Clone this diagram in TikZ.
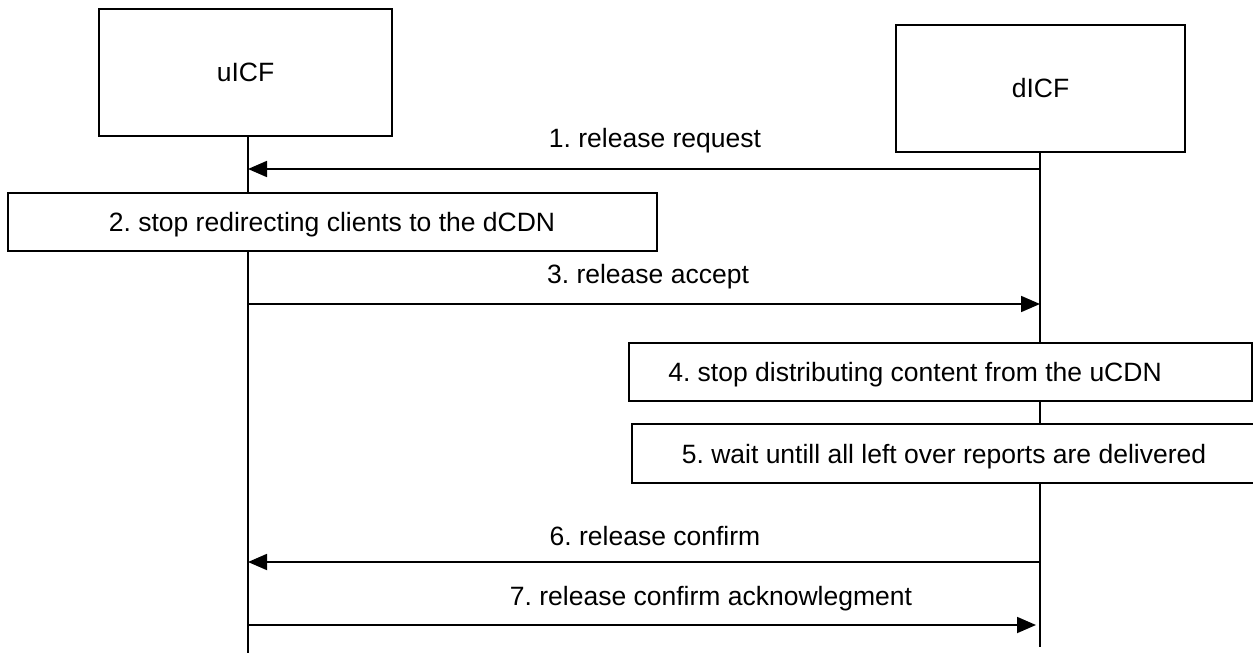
\documentclass[tikz,border=0pt]{standalone}
\usepackage{fontspec}
\setmainfont{Liberation Sans}
\usetikzlibrary{arrows.meta}
\frenchspacing
\begin{document}
\begin{tikzpicture}[x=1pt,y=-1pt,
  box/.style={draw, line width=1.8pt, fill=white, inner sep=0pt},
  lbl/.style={font=\fontsize{26.5}{30}\selectfont\frenchspacing, inner sep=0pt, anchor=base},
  msg/.style={line width=1.8pt, -{Triangle[length=19pt,width=16pt]}},
  life/.style={line width=1.8pt}]
\useasboundingbox (0,0) rectangle (1253,653);
% lifelines
\coordinate (uTop) at (248,136);
\coordinate (uBot) at (248,653);
\coordinate (dTop) at (1040,152);
\coordinate (dBot) at (1040,647);
\draw[life] (uTop) -- (uBot);
\draw[life] (dTop) -- (dBot);
% participants
\node[box, minimum width=293pt, minimum height=127pt] (uicf) at (245.5,72.5) {};
\node[lbl] (uicfT) at (245.5,81) {uICF};
\node[box, minimum width=289pt, minimum height=127pt] (dicf) at (1040.5,88.5) {};
\node[lbl] (dicfT) at (1040.5,97) {dICF};
% action boxes
\node[box, minimum width=649pt, minimum height=58pt] (b2) at (332.5,222) {};
\node[lbl] (t2) at (332,231) {2. stop redirecting clients to the dCDN};
\node[box, minimum width=623pt, minimum height=58pt] (b4) at (940.5,372) {};
\node[lbl] (t4) at (915,381) {4. stop distributing content from the uCDN};
\node[box, minimum width=630pt, minimum height=59pt] (b5) at (947,453.5) {};
\node[lbl] (t5) at (944,463) {5. wait untill all left over reports are delivered};
% messages
\coordinate (u1) at (248,169);  \coordinate (d1) at (1040,169);
\coordinate (u3) at (248,304);  \coordinate (d3) at (1040,304);
\coordinate (u6) at (248,562);  \coordinate (d6) at (1040,562);
\coordinate (u7) at (248,625);  \coordinate (d7) at (1036,625);
\draw[msg] (d1) -- (u1);
\draw[msg] (u3) -- (d3);
\draw[msg] (d6) -- (u6);
\draw[msg] (u7) -- (d7);
\node[lbl] (m1) at (655,147) {1. release request};
\node[lbl] (m3) at (648,283) {3. release accept};
\node[lbl] (m6) at (655,545) {6. release confirm};
\node[lbl] (m7) at (711,605) {7. release confirm acknowlegment};
\end{tikzpicture}
\end{document}
